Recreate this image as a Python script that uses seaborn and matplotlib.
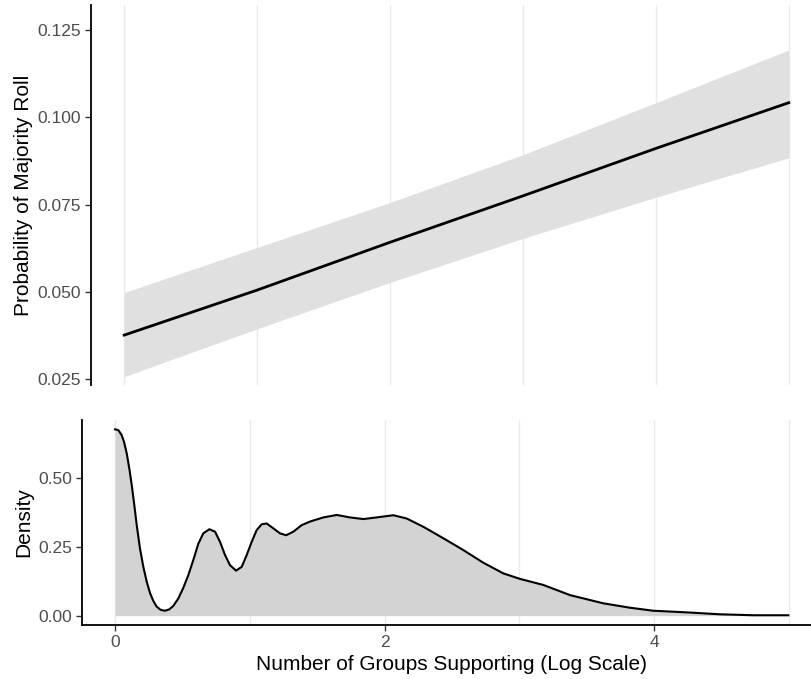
import matplotlib
matplotlib.use("Agg")
import matplotlib.pyplot as plt
import pandas as pd
import seaborn as sns

# top panel: predicted probability with confidence band
pred_x = [0, 1, 2, 3, 4, 5]
pred_fit = [0.0376, 0.0505, 0.0642, 0.0775, 0.0911, 0.1042]
pred_lo = [0.0257, 0.0394, 0.0527, 0.0653, 0.0771, 0.0884]
pred_hi = [0.0498, 0.0627, 0.0756, 0.0893, 0.1042, 0.1193]

# bottom panel: density of log number of groups
dens_x = [0.0, 0.025, 0.049, 0.067, 0.087, 0.106, 0.124, 0.143, 0.161, 0.185,
          0.21, 0.235, 0.26, 0.284, 0.309, 0.339, 0.371, 0.403, 0.433, 0.47,
          0.507, 0.544, 0.581, 0.618, 0.655, 0.70, 0.742, 0.779, 0.816, 0.853,
          0.898, 0.94, 0.977, 1.014, 1.051, 1.088, 1.125, 1.175, 1.224, 1.269,
          1.323, 1.385, 1.447, 1.546, 1.645, 1.743, 1.842, 1.941, 2.065, 2.164,
          2.287, 2.436, 2.584, 2.732, 2.881, 3.004, 3.177, 3.375, 3.622, 3.82,
          3.993, 4.241, 4.488, 4.735, 4.995]
dens_y = [0.679, 0.676, 0.658, 0.633, 0.591, 0.536, 0.476, 0.403, 0.330, 0.245,
          0.178, 0.124, 0.082, 0.054, 0.033, 0.021, 0.018, 0.023, 0.036, 0.063,
          0.102, 0.148, 0.203, 0.262, 0.300, 0.315, 0.306, 0.269, 0.221, 0.184,
          0.164, 0.178, 0.221, 0.269, 0.312, 0.333, 0.336, 0.318, 0.300, 0.293,
          0.306, 0.330, 0.343, 0.358, 0.367, 0.358, 0.352, 0.358, 0.366, 0.354,
          0.324, 0.282, 0.239, 0.193, 0.154, 0.134, 0.112, 0.075, 0.045, 0.029,
          0.018, 0.012, 0.005, 0.0015, 0.0015]

plt.rcParams["font.family"] = ["Liberation Sans", "DejaVu Sans"]
TICK_COL = "#4d4d4d"
GRID_COL = "#ebebeb"

W, H = 811, 679
fig = plt.figure(figsize=(W / 100, H / 100), dpi=100)

# axes positions in pixels, converted to figure fractions
ax1 = fig.add_axes([91 / W, 1 - 385 / H, (822 - 91) / W, (385 - 5) / H])
ax2 = fig.add_axes([82 / W, 1 - 625 / H, (822 - 82) / W, (625 - 420) / H])

top = pd.DataFrame({"x": pred_x, "fit": pred_fit, "lo": pred_lo, "hi": pred_hi})
dens = pd.DataFrame({"x": dens_x, "y": dens_y})

ax1.fill_between(top["x"], top["lo"], top["hi"], color="#e0e0e0", lw=0, zorder=2)
sns.lineplot(data=top, x="x", y="fit", color="black", lw=2, ax=ax1, zorder=3)

ax2.fill_between(dens["x"], 0, dens["y"], color="#d3d3d3", lw=0, zorder=2)
sns.lineplot(data=dens, x="x", y="y", color="black", lw=1.5, ax=ax2, zorder=3,
             sort=False)

ax1.set_xlim(-0.25, 5.25)
ax1.set_ylim(0.0233, 0.1322)
ax1.set_yticks([0.025, 0.050, 0.075, 0.100, 0.125])
ax1.set_yticklabels(["0.025", "0.050", "0.075", "0.100", "0.125"])
ax1.set_xticks([0, 1, 2, 3, 4, 5])
ax1.tick_params(axis="x", length=0, labelbottom=False)
ax1.set_xlabel("")
ax1.set_ylabel("Probability of Majority Roll", fontsize=15, color="black")

ax2.set_xlim(-0.245, 5.245)
ax2.set_ylim(-0.034, 0.713)
ax2.set_yticks([0.0, 0.25, 0.50])
ax2.set_yticklabels(["0.00", "0.25", "0.50"])
ax2.set_xticks([0, 2, 4])
ax2.set_xticks([1, 3, 5], minor=True)
ax2.tick_params(axis="x", which="minor", length=0)
ax2.set_xlabel("Number of Groups Supporting (Log Scale)", fontsize=15,
               color="black", labelpad=4)
ax2.set_ylabel("Density", fontsize=15, color="black")

for ax in (ax1, ax2):
    ax.set_facecolor("white")
    ax.grid(False)
    ax.xaxis.grid(True, which="both", color=GRID_COL, lw=1.0, zorder=0)
    ax.set_axisbelow(True)
    for s in ("top", "right"):
        ax.spines[s].set_visible(False)
    ax.spines["left"].set_linewidth(1.3)
    ax.spines["bottom"].set_linewidth(1.3)
    ax.tick_params(axis="y", length=4, width=1, color="#333333",
                   labelsize=12.5, labelcolor=TICK_COL, pad=3)
    ax.tick_params(axis="x", which="major", labelsize=12.5,
                   labelcolor=TICK_COL, color="#333333", width=1, pad=3)

ax1.spines["bottom"].set_visible(False)
ax2.tick_params(axis="x", which="major", length=4)

ax1.yaxis.set_label_coords(-58 / (822 - 91), 0.5)
ax2.yaxis.set_label_coords(-49 / (822 - 82), 0.5)

fig.savefig("out.png", dpi=100)
